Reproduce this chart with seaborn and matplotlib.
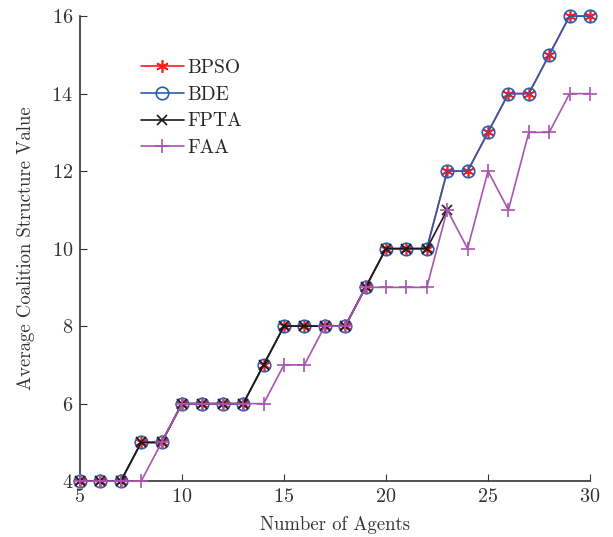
import matplotlib
matplotlib.use("Agg")
import matplotlib.pyplot as plt
import seaborn as sns
import pandas as pd

agents = list(range(5, 31))
bpso = [4, 4, 4, 5, 5, 6, 6, 6, 6, 7, 8, 8, 8, 8, 9, 10, 10, 10, 12, 12, 13, 14, 14, 15, 16, 16]
bde = [4, 4, 4, 5, 5, 6, 6, 6, 6, 7, 8, 8, 8, 8, 9, 10, 10, 10, 12, 12, 13, 14, 14, 15, 16, 16]
fpta = [4, 4, 4, 5, 5, 6, 6, 6, 6, 7, 8, 8, 8, 8, 9, 10, 10, 10, 11]
faa = [4, 4, 4, 4, 5, 6, 6, 6, 6, 6, 7, 7, 8, 8, 9, 9, 9, 9, 11, 10, 12, 11, 13, 13, 14, 14]

names = ["BPSO", "BDE", "FPTA", "FAA"]
series = [bpso, bde, fpta, faa]

sns.set_style("ticks")
plt.rcParams["font.family"] = ["cmr10", "DejaVu Serif"]
plt.rcParams["axes.formatter.use_mathtext"] = True
plt.rcParams["mathtext.fontset"] = "cm"

colors = {"BPSO": "#ff1a1a", "BDE": "#2a5db0", "FPTA": "#1a1a1a", "FAA": "#a855b0"}
markers = {"BPSO": (6, 2, 0), "BDE": "o", "FPTA": "x", "FAA": "+"}
msizes = {"BPSO": 9, "BDE": 9, "FPTA": 7, "FAA": 10}

fig = plt.figure(figsize=(6.13, 5.37), dpi=100)
ax = fig.add_axes([0.1305, 0.104, 0.832, 0.866])

# one lineplot per method (seaborn won't mix open and filled markers in one call)
for name, vals in zip(names, series):
    d = pd.DataFrame({"agents": agents[:len(vals)], "value": vals})
    sns.lineplot(data=d, x="agents", y="value", color=colors[name], marker=markers[name],
                 markersize=msizes[name], markerfacecolor="none",
                 markeredgecolor=colors[name], markeredgewidth=1.2,
                 linewidth=1.2, label=name, ax=ax, clip_on=False, zorder=3)

ax.set_xlim(5, 30)
ax.set_ylim(4, 16)
ax.set_xticks([5, 10, 15, 20, 25, 30])
ax.set_yticks([4, 6, 8, 10, 12, 14, 16])
ax.tick_params(direction="in", length=5, labelsize=14.5, colors="#333333", pad=5)
for s in ["top", "right"]:
    ax.spines[s].set_visible(False)
for s in ["left", "bottom"]:
    ax.spines[s].set_color("#333333")
    ax.spines[s].set_linewidth(1.2)

ax.set_xlabel("Number of Agents", fontsize=13.5, color="#333333", labelpad=7)
ax.set_ylabel("Average Coalition Structure Value", fontsize=13.5, color="#333333", labelpad=12)

leg = ax.legend(loc="upper left", bbox_to_anchor=(0.085, 0.945), frameon=False,
                fontsize=14, handlelength=2.2, handletextpad=0.2, labelspacing=0.45)

fig.savefig("out.png", dpi=100)
